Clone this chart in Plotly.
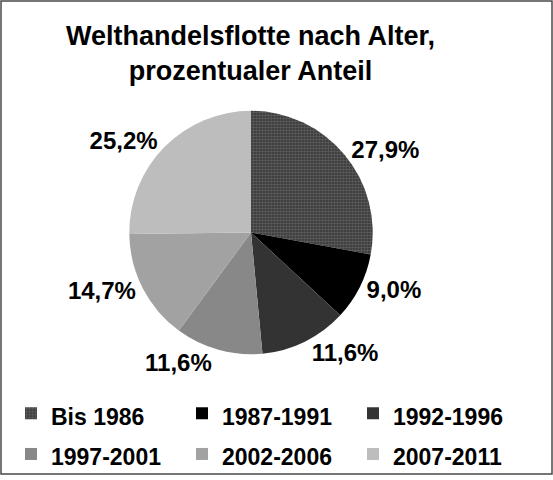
import plotly.graph_objects as go

# -----------------------------
# Data
# -----------------------------
age_groups = ["Bis 1986", "1987-1991", "1992-1996", "1997-2001", "2002-2006", "2007-2011"]
shares = [27.9, 9.0, 11.6, 11.6, 14.7, 25.2]
slice_colors = ["#333333", "#000000", "#333333", "#888888", "#a2a2a2", "#bdbdbd"]
slice_patterns = [".", "", "", "", "", ""]

W, H = 553, 480
font_family = "Liberation Sans, Arial, sans-serif"

# legend font is set larger than the label spans so the rows get more room
legend_labels = ["<span style='font-size:23px'>%s</span>" % g for g in age_groups]

fig = go.Figure()
fig.add_trace(
    go.Pie(
        labels=legend_labels,
        values=shares,
        sort=False,
        direction="clockwise",
        rotation=0,
        marker=dict(
            colors=slice_colors,
            line=dict(width=0),
            pattern=dict(shape=slice_patterns, size=3, solidity=0.55,
                         fgcolor="#858585", fillmode="overlay"),
        ),
        textinfo="percent",
        texttemplate="%{percent:.1%}",
        textposition="outside",
        textfont=dict(family=font_family, size=24, color="#000000", weight="bold"),
        domain=dict(x=[(251 - 123) / W, (251 + 123) / W],
                    y=[(H - 235 - 123) / H, (H - 235 + 123) / H]),
        hovertemplate="%{percent:.1%}<extra></extra>",
    )
)

fig.update_layout(
    width=W,
    height=H,
    margin=dict(l=0, r=0, t=0, b=0),
    paper_bgcolor="white",
    separators=", ",
    annotations=[
        dict(
            text="Welthandelsflotte nach Alter,<br>prozentualer Anteil",
            xref="paper", yref="paper",
            x=250 / W, y=1 - 54 / H,
            xanchor="center", yanchor="middle",
            showarrow=False,
            font=dict(family=font_family, size=27, color="#000000", weight="bold"),
        )
    ],
    legend=dict(
        orientation="h",
        x=11 / W,
        xanchor="left",
        y=1 - 392 / H,
        yanchor="top",
        entrywidth=126,
        entrywidthmode="pixels",
        font=dict(family=font_family, size=29, color="#000000", weight="bold"),
        bgcolor="rgba(0,0,0,0)",
    ),
    shapes=[
        dict(type="rect", xref="paper", yref="paper",
             x0=1 / W, y0=1 / H, x1=1 - 1 / W, y1=1 - 1 / H,
             line=dict(color="#4a4a4a", width=1.5), fillcolor="rgba(0,0,0,0)")
    ],
)

fig.write_html("out.html", config={"displayModeBar": False},
               post_script="document.body.style.margin='0';")
